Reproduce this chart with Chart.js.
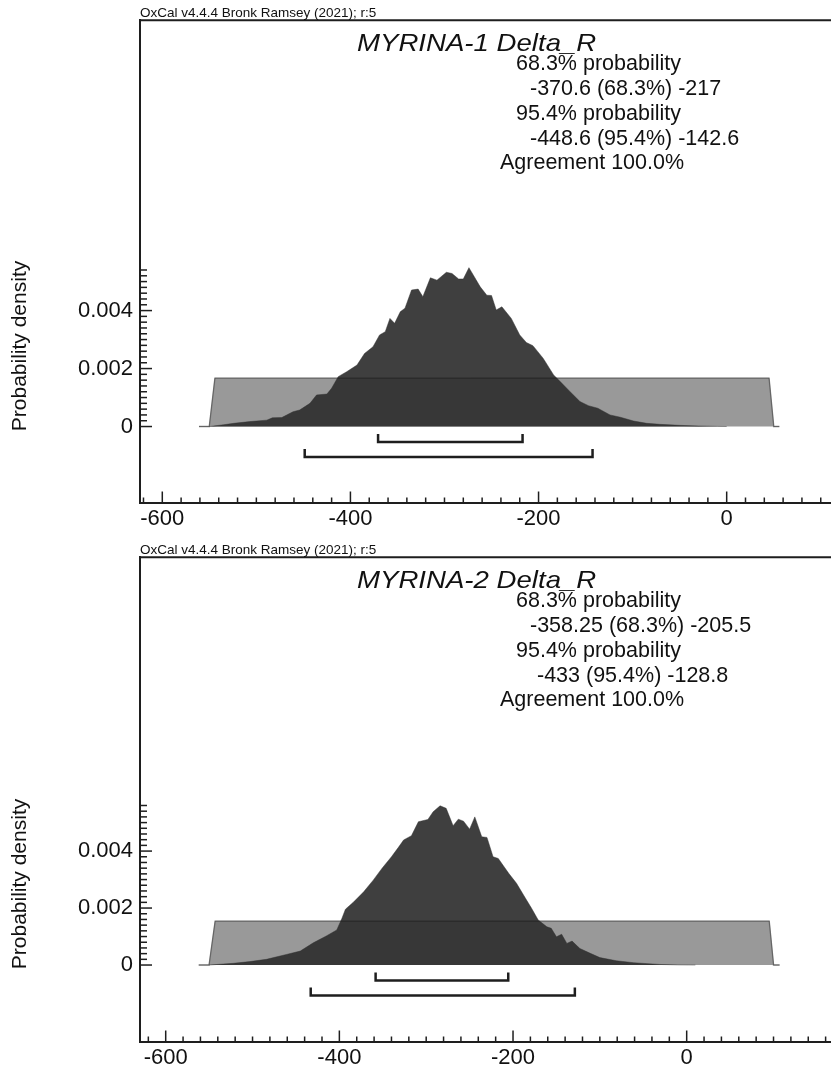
<!DOCTYPE html>
<html>
<head>
<meta charset="utf-8">
<script src="https://cdn.jsdelivr.net/npm/chart.js@4/dist/chart.umd.min.js"></script>
<style>
  html, body { margin: 0; padding: 0; background: #fff; overflow: hidden; }
  #wrap { position: relative; width: 831px; height: 1066px; }
  canvas { position: absolute; left: 0; }
  #panel1 { top: 0; }
  #panel2 { top: 537px; }
</style>
</head>
<body>
<div id="wrap">
  <canvas id="panel1" width="831" height="537"></canvas>
  <canvas id="panel2" width="831" height="537"></canvas>
</div>
<script>
// --- data ---
const sampleNames = ['MYRINA-1 Delta_R', 'MYRINA-2 Delta_R'];

// posterior density, MYRINA-1
const post1X = [-550, -535, -524, -507, -489, -483, -473, -461, -454, -443, -436, -425, -420, -413, -404, -393, -385, -376, -369, -363, -358, -353, -347, -342, -335, -328, -323, -315, -308, -298, -292, -285, -280, -274, -262, -255, -250, -245, -239, -229, -220, -213, -206, -195, -184, -177, -167, -156, -147, -137, -124, -113, -99, -85, -71, -50, -30, -10, 0];
const post1Y = [0, 0.00006, 0.00011, 0.00017, 0.00022, 0.0003, 0.00031, 0.00051, 0.00057, 0.0008, 0.00109, 0.00112, 0.00132, 0.00172, 0.00189, 0.00212, 0.00252, 0.00275, 0.00316, 0.00327, 0.00373, 0.00356, 0.00396, 0.00408, 0.00471, 0.00474, 0.00448, 0.00513, 0.00505, 0.00532, 0.00528, 0.00509, 0.00509, 0.00548, 0.00482, 0.00453, 0.00452, 0.00402, 0.00413, 0.00373, 0.00316, 0.0029, 0.00279, 0.00235, 0.00178, 0.00155, 0.00122, 0.00086, 0.00072, 0.00063, 0.0004, 0.00032, 0.00019, 0.00011, 0.000075, 0.00004, 0.00002, 0.000005, 0];

// posterior density, MYRINA-2
const post2X = [-550, -522, -503, -484, -461, -445, -430, -415, -403, -397, -393, -384, -372, -361, -351, -340, -332, -326, -317, -309, -298, -292, -284, -277, -269, -263, -257, -250, -244, -236, -230, -223, -217, -205, -196, -186, -179, -171, -161, -156, -150, -144, -138, -132, -123, -111, -100, -81, -61, -31, -10, 10];
const post2Y = [0, 0.00006, 0.00012, 0.0002, 0.00037, 0.00049, 0.00078, 0.00102, 0.00123, 0.00164, 0.00196, 0.0022, 0.00257, 0.00298, 0.00339, 0.0038, 0.00413, 0.00439, 0.00454, 0.00503, 0.00511, 0.00538, 0.00559, 0.0055, 0.00489, 0.00512, 0.00505, 0.00477, 0.0052, 0.0045, 0.00448, 0.0038, 0.00374, 0.00322, 0.00287, 0.00236, 0.00201, 0.00158, 0.00134, 0.00129, 0.00099, 0.00108, 0.00076, 0.00084, 0.00058, 0.00041, 0.00026, 0.00015, 0.00008, 0.00002, 0.000005, 0];

// uniform priors (OxCal draws the edges slightly sloped)
const prior1X = [-561, -550, -544, 45, 50, 56];
const prior1Y = [0, 0, 0.001667, 0.001667, 0, 0];
const prior2X = [-562, -550, -543, 95, 100, 107];
const prior2Y = [0, 0, 0.001538, 0.001538, 0, 0];

// highest posterior density ranges
const hpd68 = [[-370.6, -217], [-358.25, -205.5]];
const hpd95 = [[-448.6, -142.6], [-433, -128.8]];
const agreement = [100.0, 100.0];

const xTickLabels = [-600, -400, -200, 0];
const yTickLabels = [0, 0.002, 0.004];
const yMinorTop = [0.0054, 0.0056];

const FONT = '"Liberation Sans", Arial, sans-serif';

function pts(xs, ys) {
  return xs.map((v, i) => ({ x: v, y: ys[i] }));
}

// ticks inside the frame, brackets and the OxCal texts
const oxcalDecor = {
  id: 'oxcalDecor',
  afterDraw(chart, args, o) {
    const { ctx, chartArea: a, scales: { x, y } } = chart;
    ctx.save();
    ctx.strokeStyle = '#1e1e1e';

    // top frame line
    ctx.lineWidth = 2;
    ctx.beginPath();
    ctx.moveTo(a.left - 1, a.top);
    ctx.lineTo(a.right, a.top);
    ctx.stroke();

    // x ticks every 20, major every 200
    ctx.lineWidth = 1.5;
    for (let v = Math.ceil(x.min / 20) * 20; v <= x.max; v += 20) {
      const px = x.getPixelForValue(v);
      const len = (v % 200 === 0) ? 11.5 : 5.5;
      ctx.beginPath();
      ctx.moveTo(px, a.bottom);
      ctx.lineTo(px, a.bottom - len);
      ctx.stroke();
    }

    // y ticks every 0.0002, major every 0.002
    const n = Math.round(o.yTop / 0.0002);
    for (let i = 0; i <= n; i++) {
      const py = y.getPixelForValue(i * 0.0002);
      const len = (i % 10 === 0) ? 12 : 7;
      ctx.beginPath();
      ctx.moveTo(a.left, py);
      ctx.lineTo(a.left + len, py);
      ctx.stroke();
    }

    // 68.3% and 95.4% range brackets
    const y0 = y.getPixelForValue(0);
    ctx.lineWidth = 2.5;
    [[o.r68, 15.5], [o.r95, 30.5]].forEach(([r, off]) => {
      const x1 = x.getPixelForValue(r[0]);
      const x2 = x.getPixelForValue(r[1]);
      ctx.beginPath();
      ctx.moveTo(x1, y0 + off - 8);
      ctx.lineTo(x1, y0 + off);
      ctx.lineTo(x2, y0 + off);
      ctx.lineTo(x2, y0 + off - 8);
      ctx.stroke();
    });

    // texts
    ctx.fillStyle = '#111';
    ctx.textAlign = 'left';
    ctx.textBaseline = 'alphabetic';
    ctx.font = '13.5px ' + FONT;
    ctx.fillText('OxCal v4.4.4 Bronk Ramsey (2021); r:5', a.left, a.top - 3);

    ctx.save();
    ctx.font = 'italic 24px ' + FONT;
    ctx.translate(357, 51);
    ctx.scale(1.15, 1);
    ctx.fillText(o.title, 0, 0);
    ctx.restore();

    ctx.font = '21.5px ' + FONT;
    const lines = [
      '68.3% probability',
      o.r68[0] + ' (68.3%) ' + o.r68[1],
      '95.4% probability',
      o.r95[0] + ' (95.4%) ' + o.r95[1],
      'Agreement ' + o.agree.toFixed(1) + '%'
    ];
    const baselines = [70, 95, 120, 145, 169];
    lines.forEach((t, i) => ctx.fillText(t, o.lineX[i], baselines[i]));

    // y axis title
    ctx.save();
    ctx.font = '21px ' + FONT;
    ctx.translate(20, o.yTitleMid);
    ctx.rotate(-Math.PI / 2);
    ctx.textAlign = 'center';
    ctx.textBaseline = 'middle';
    ctx.fillText('Probability density', 0, 0);
    ctx.restore();

    ctx.restore();
  }
};

function makePanel(id, k, cfg) {
  const priorPts = k === 0 ? pts(prior1X, prior1Y) : pts(prior2X, prior2Y);
  const postPts = k === 0 ? pts(post1X, post1Y) : pts(post2X, post2Y);
  return new Chart(document.getElementById(id), {
    type: 'line',
    data: {
      datasets: [
        {
          // prior outline drawn over everything
          data: priorPts,
          borderColor: 'rgba(0,0,0,0.28)',
          borderWidth: 1,
          fill: false,
          pointRadius: 0,
          tension: 0,
          order: 0
        },
        {
          data: postPts,
          borderColor: 'rgba(47,47,47,0.92)',
          borderWidth: 0.5,
          backgroundColor: 'rgba(47,47,47,0.92)',
          fill: 'origin',
          pointRadius: 0,
          tension: 0,
          order: 1
        },
        {
          data: priorPts,
          borderColor: '#8a8a8a',
          borderWidth: 1.5,
          backgroundColor: '#999999',
          fill: 'origin',
          pointRadius: 0,
          tension: 0,
          order: 2
        }
      ]
    },
    options: {
      responsive: false,
      animation: false,
      events: [],
      layout: { padding: { top: 20, left: 0, right: 0, bottom: 0 } },
      plugins: {
        legend: { display: false },
        tooltip: { enabled: false },
        oxcalDecor: {
          title: sampleNames[k],
          r68: hpd68[k],
          r95: hpd95[k],
          agree: agreement[k],
          yTop: yMinorTop[k],
          lineX: cfg.lineX,
          yTitleMid: cfg.yTitleMid
        }
      },
      scales: {
        x: {
          type: 'linear',
          min: cfg.xMin,
          max: cfg.xMax,
          afterBuildTicks: s => { s.ticks = xTickLabels.map(v => ({ value: v })); },
          afterFit: s => { s.height = 537 - cfg.bottom; },
          grid: { display: true, drawOnChartArea: false, drawTicks: false },
          border: { display: true, color: '#1e1e1e', width: 2 },
          ticks: {
            color: '#111',
            font: { family: FONT, size: 22 },
            padding: 3,
            maxRotation: 0,
            autoSkip: false,
            callback: v => String(v)
          }
        },
        y: {
          type: 'linear',
          min: cfg.yMin,
          max: cfg.yMax,
          afterBuildTicks: s => { s.ticks = yTickLabels.map(v => ({ value: v })); },
          afterFit: s => { s.width = 140; },
          grid: { display: true, drawOnChartArea: false, drawTicks: false },
          border: { display: true, color: '#1e1e1e', width: 2 },
          ticks: {
            color: '#111',
            font: { family: FONT, size: 22 },
            padding: 7,
            autoSkip: false,
            callback: v => String(v)
          }
        }
      }
    },
    plugins: [oxcalDecor]
  });
}

makePanel('panel1', 0, {
  xMin: -623.7, xMax: 110.9,
  yMin: -0.002638, yMax: 0.014017,
  bottom: 503,
  lineX: [516, 530, 516, 530, 500],
  yTitleMid: 346
});

makePanel('panel2', 1, {
  xMin: -629.6, xMax: 166.2,
  yMin: -0.002702, yMax: 0.014316,
  bottom: 505,
  lineX: [516, 530, 516, 537, 500],
  yTitleMid: 347
});
</script>
</body>
</html>
